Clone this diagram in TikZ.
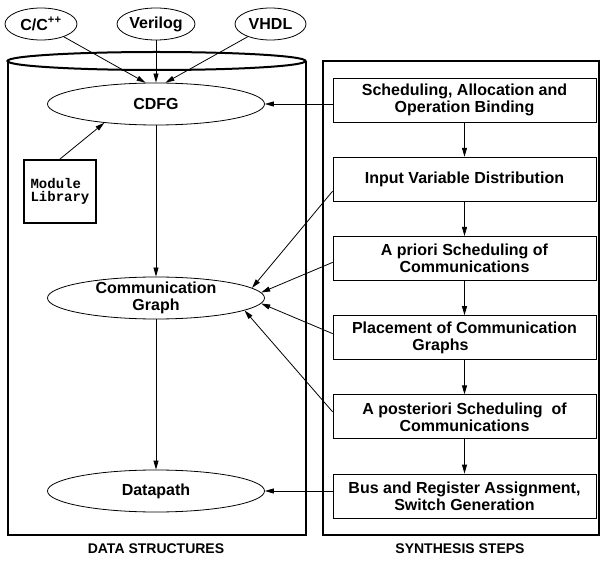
\documentclass[tikz,border=0pt]{standalone}
\usepackage{fontspec}
\setmainfont{Liberation Sans}
\setmonofont{Liberation Mono}
\usetikzlibrary{arrows.meta,shapes,positioning,calc}

\begin{document}
\begin{tikzpicture}[x=1pt, y=-1pt, node distance = 79.2pt, line width=0.8pt,
		>={Triangle[length=9pt,width=5pt]},
		every node/.style={font=\fontsize{16}{17}\selectfont\bfseries},
		srcnode/.style={draw, ellipse, inner sep=0pt, minimum height=32pt},
		dsnode/.style={draw, ellipse, inner xsep=0pt, inner ysep=-3pt, minimum width=217pt, minimum height=42pt, align=center},
		stepbox/.style={draw, rectangle, minimum width=263pt, minimum height=44pt, align=center},
		frame/.style={line width=2pt},
		caption/.style={font=\fontsize{14}{16}\selectfont\bfseries}]
	\useasboundingbox (0,0) rectangle (603,564);

	% the two containers
	\draw[frame] (7.5,61) -- (7.5,535) -- (305.5,535) -- (305.5,61);
	\draw[frame] (156.5,61) ellipse [x radius=149pt, y radius=9pt];
	\draw[frame] (323,61) rectangle (599,535);

	% data structures
	\node[dsnode] (cdfg) at (156,104) {CDFG};
	\node[dsnode, below of=cdfg, node distance=194pt] (comm) {Communication\\Graph};
	\node[dsnode, below of=comm, node distance=193pt] (dp) {Datapath};

	\node[srcnode, minimum width=72pt] (cpp) at (41,24) {C/C\textsuperscript{++}};
	\node[srcnode, minimum width=78pt] (vlog) at (156,24) {Verilog};
	\node[srcnode, minimum width=71pt] (vhdl) at (270.5,24) {VHDL};

	\node[draw, frame, minimum width=72pt, minimum height=63pt, align=left,
		font=\ttfamily\bfseries\fontsize{14}{13}\selectfont] (lib) at (60,191.5) {Module\\Library};

	% synthesis steps
	\node[stepbox] (sab) at (464.5,100) {Scheduling, Allocation and\\Operation Binding};
	\node[stepbox, below of=sab] (ivd) {Input Variable Distribution};
	\node[stepbox, below of=ivd] (apr) {A priori Scheduling of\\Communications};
	\node[stepbox, below of=apr] (pcg) {Placement of Communication\\Graphs\hspace*{3em}};
	\node[stepbox, below of=pcg] (aps) {A posteriori Scheduling\ \ of\\Communications};
	\node[stepbox, below of=aps] (bra) {Bus and Register Assignment,\\Switch Generation};

	\node[caption] (dslabel) at (156,549) {DATA STRUCTURES};
	\node[caption] (sslabel) at (460,549) {SYNTHESIS STEPS};

	% connectors
	\draw[->] (cpp) -- (cdfg.116);
	\draw[->] (vlog) -- (cdfg);
	\draw[->] (vhdl) -- (cdfg.66);
	\draw[->] (lib.north) -- (cdfg.-160);
	\draw[->] (cdfg) -- (comm);
	\draw[->] (comm) -- (dp);

	\draw[->] (sab.west |- cdfg) -- (cdfg);
	\draw[->] ([yshift=-12pt]ivd.west) -- (comm.6);
	\draw[->] ([yshift=-4pt]apr.west) -- (comm.3);
	\draw[->] ([yshift=4pt]pcg.west) -- (comm.-3);
	\draw[->] ([yshift=5pt]aps.west) -- (comm.-8);
	\draw[->] (bra.west |- dp) -- (dp);

	\foreach \a/\b in {sab/ivd, ivd/apr, apr/pcg, pcg/aps, aps/bra}
		\draw[->] (\a) -- (\b);
\end{tikzpicture}
\end{document}
